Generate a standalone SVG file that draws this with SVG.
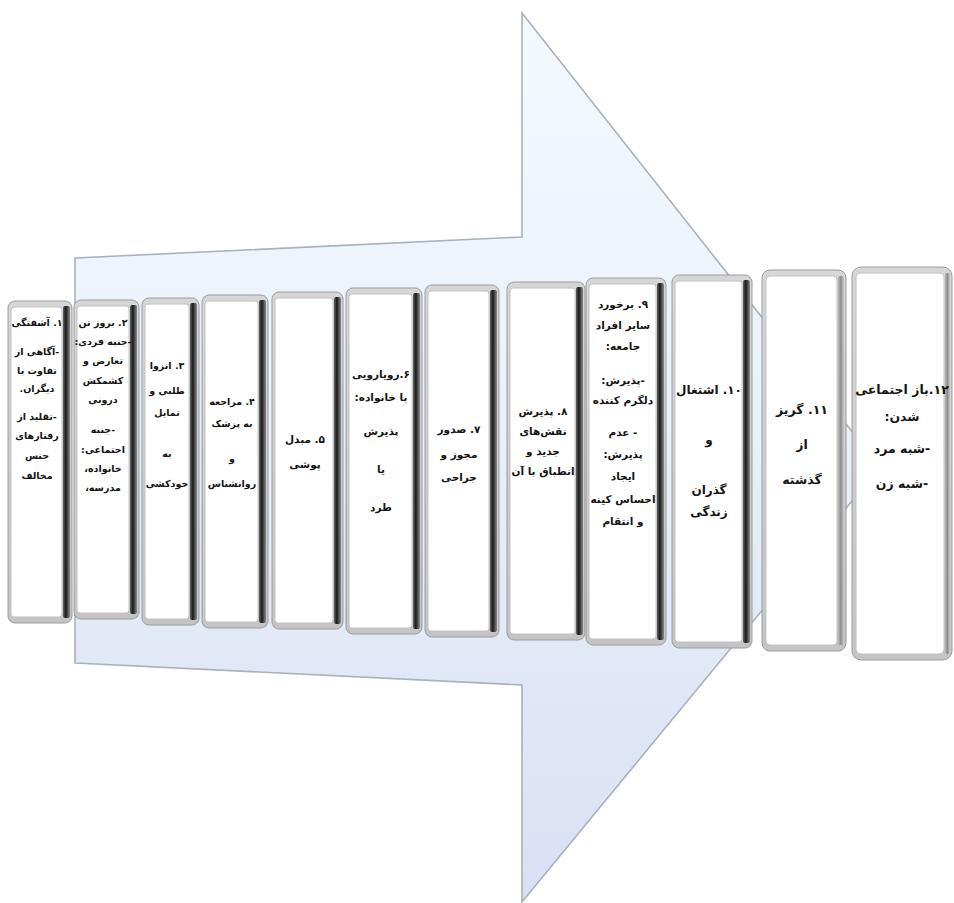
<svg xmlns="http://www.w3.org/2000/svg" width="954" height="903" viewBox="0 0 954 903">
<defs>
<linearGradient id="arrowGrad" x1="0" y1="0" x2="0" y2="1">
<stop offset="0" stop-color="#f4f9fd"/>
<stop offset="0.45" stop-color="#e9f1fa"/>
<stop offset="1" stop-color="#d9e0f4"/>
</linearGradient>
<linearGradient id="sideGrad" x1="0" y1="0" x2="1" y2="0">
<stop offset="0" stop-color="#666"/>
<stop offset="0.4" stop-color="#1a1a1a"/>
<stop offset="1" stop-color="#8a8a8a"/>
</linearGradient>
<linearGradient id="sideLight" x1="0" y1="0" x2="1" y2="0">
<stop offset="0" stop-color="#bbb"/>
<stop offset="0.5" stop-color="#8c8c8c"/>
<stop offset="1" stop-color="#d0d0d0"/>
</linearGradient>
<linearGradient id="frameGrad" x1="0" y1="0" x2="0" y2="1">
<stop offset="0" stop-color="#d6d6d6"/>
<stop offset="1" stop-color="#c4c4c4"/>
</linearGradient>
</defs>
<style>
.frame{fill:url(#frameGrad);stroke:#9c9c9c;stroke-width:1}
.face{fill:#ffffff;stroke:#c2c2c2;stroke-width:1}
.side{fill:url(#sideGrad)}
.sidel{fill:url(#sideLight)}
text{font-family:"DejaVu Sans","Noto Sans",sans-serif;font-weight:bold;fill:#141414;text-anchor:middle;direction:rtl;unicode-bidi:embed}
.s{font-size:9.5px}
.m{font-size:10.5px}
.l{font-size:12.5px}
.l2{font-size:12px}
</style>
<rect width="954" height="903" fill="#ffffff"/>
<g id="arrow">
<polygon points="75,258 522,237 522,13 880,467 522,902 522,685 75,663" fill="url(#arrowGrad)" stroke="#a9b1ba" stroke-width="1.6" stroke-linejoin="miter"/>
</g>
<g id="connectors"></g>

<g id="n1">
<rect class="frame" x="8" y="301" width="64" height="322" rx="7"/>
<rect class="face" x="11" y="307" width="51" height="310" rx="3"/>
<rect class="side" x="63" y="306" width="7" height="312" rx="2"/>
<text class="s" x="37" y="326">۱. آشفتگی</text>
<text class="s" x="37" y="355">-آگاهی از</text>
<text class="s" x="37" y="374">تفاوت با</text>
<text class="s" x="37" y="392">دیگران.</text>
<text class="s" x="37" y="420">-تقلید از</text>
<text class="s" x="37" y="439">رفتارهای</text>
<text class="s" x="37" y="459">جنس</text>
<text class="s" x="37" y="479">مخالف</text>
</g>

<g id="n2">
<rect class="frame" x="74" y="300" width="65" height="319" rx="7"/>
<rect class="face" x="77" y="306" width="52" height="307" rx="3"/>
<rect class="side" x="130" y="305" width="7" height="309" rx="2"/>
<text class="s" x="103" y="326">۲. بروز تن</text>
<text class="s" x="103" y="345">-جنبه فردی:</text>
<text class="s" x="103" y="364">تعارض و</text>
<text class="s" x="103" y="384">کشمکش</text>
<text class="s" x="103" y="403">درونی</text>
<text class="s" x="103" y="433">-جنبه</text>
<text class="s" x="103" y="453">اجتماعی:</text>
<text class="s" x="103" y="472">خانواده،</text>
<text class="s" x="103" y="491">مدرسه،</text>
</g>

<g id="n3">
<rect class="frame" x="142" y="298" width="57" height="327" rx="7"/>
<rect class="face" x="145" y="304" width="44" height="315" rx="3"/>
<rect class="side" x="190" y="303" width="7" height="317" rx="2"/>
<text class="s" x="167" y="369">۳. انزوا</text>
<text class="s" x="167" y="394">طلبی و</text>
<text class="s" x="167" y="416">تمایل</text>
<text class="s" x="167" y="457">به</text>
<text class="s" x="167" y="487">خودکشی</text>
</g>

<g id="n4">
<rect class="frame" x="202" y="295" width="66" height="333" rx="7"/>
<rect class="face" x="205" y="301" width="53" height="321" rx="3"/>
<rect class="side" x="259" y="300" width="7" height="323" rx="2"/>
<text class="s" x="232" y="405">۴. مراجعه</text>
<text class="s" x="232" y="427">به پزشک</text>
<text class="s" x="232" y="462">و</text>
<text class="s" x="232" y="487">روانشناس</text>
</g>

<g id="n5">
<rect class="frame" x="272" y="292" width="71" height="337" rx="7"/>
<rect class="face" x="275" y="298" width="58" height="325" rx="3"/>
<rect class="side" x="334" y="297" width="7" height="327" rx="2"/>
<text class="m" x="305" y="443">۵. مبدل</text>
<text class="m" x="305" y="468">پوشی</text>
</g>

<g id="n6">
<rect class="frame" x="346" y="288" width="76" height="346" rx="7"/>
<rect class="face" x="349" y="294" width="63" height="334" rx="3"/>
<rect class="side" x="413" y="293" width="7" height="336" rx="2"/>
<text class="m" x="381" y="378">۶.رویارویی</text>
<text class="m" x="381" y="401">با خانواده:</text>
<text class="m" x="381" y="435">پذیرش</text>
<text class="m" x="381" y="473">یا</text>
<text class="m" x="381" y="511">طرد</text>
</g>

<g id="n7">
<rect class="frame" x="425" y="285" width="74" height="352" rx="7"/>
<rect class="face" x="428" y="291" width="61" height="340" rx="3"/>
<rect class="side" x="490" y="290" width="7" height="342" rx="2"/>
<text class="m" x="459" y="433">۷. صدور</text>
<text class="m" x="459" y="458">مجوز و</text>
<text class="m" x="459" y="481">جراحی</text>
</g>

<g id="n8">
<rect class="frame" x="507" y="282" width="78" height="358" rx="7"/>
<rect class="face" x="510" y="288" width="65" height="346" rx="3"/>
<rect class="side" x="576" y="287" width="7" height="348" rx="2"/>
<text class="m" x="543" y="415">۸. پذیرش</text>
<text class="m" x="543" y="435">نقش‌های</text>
<text class="m" x="543" y="455">جدید و</text>
<text class="m" x="543" y="475">انطباق با آن</text>
</g>

<g id="n9">
<rect class="frame" x="586" y="278" width="80" height="367" rx="7"/>
<rect class="face" x="589" y="284" width="67" height="355" rx="3"/>
<rect class="side" x="657" y="283" width="7" height="357" rx="2"/>
<text class="m" x="623" y="308">۹. برخورد</text>
<text class="m" x="623" y="329">سایر افراد</text>
<text class="m" x="623" y="350">جامعه:</text>
<text class="m" x="623" y="384">-پذیرش:</text>
<text class="m" x="623" y="404">دلگرم کننده</text>
<text class="m" x="623" y="436">- عدم</text>
<text class="m" x="623" y="458">پذیرش:</text>
<text class="m" x="623" y="480">ایجاد</text>
<text class="m" x="623" y="503">احساس کینه</text>
<text class="m" x="623" y="525">و انتقام</text>
</g>

<g id="n10">
<rect class="frame" x="672" y="275" width="80" height="373" rx="7"/>
<rect class="face" x="675" y="281" width="67" height="361" rx="3"/>
<rect class="side" x="743" y="280" width="7" height="363" rx="2"/>
<text class="l2" x="709" y="394">۱۰. اشتغال</text>
<text class="l2" x="709" y="444">و</text>
<text class="l2" x="709" y="494">گذران</text>
<text class="l2" x="709" y="516">زندگی</text>
</g>

<g id="n11">
<rect class="frame" x="762" y="270" width="84" height="381" rx="8"/>
<rect class="face" x="766" y="276" width="71" height="369" rx="4"/>
<rect class="sidel" x="838" y="276" width="6" height="369" rx="2"/>
<text class="l" x="802" y="414">۱۱. گریز</text>
<text class="l" x="802" y="449">از</text>
<text class="l" x="802" y="484">گذشته</text>
</g>

<g id="n12">
<rect class="frame" x="852" y="267" width="100" height="393" rx="9"/>
<rect class="face" x="856" y="273" width="88" height="381" rx="5"/>
<rect class="sidel" x="945" y="273" width="5" height="381" rx="2"/>
<text class="l" x="902" y="394">۱۲.باز اجتماعی</text>
<text class="l" x="902" y="421">شدن:</text>
<text class="l" x="902" y="453">-شبه مرد</text>
<text class="l" x="902" y="488">-شبه زن</text>
</g>
</svg>
